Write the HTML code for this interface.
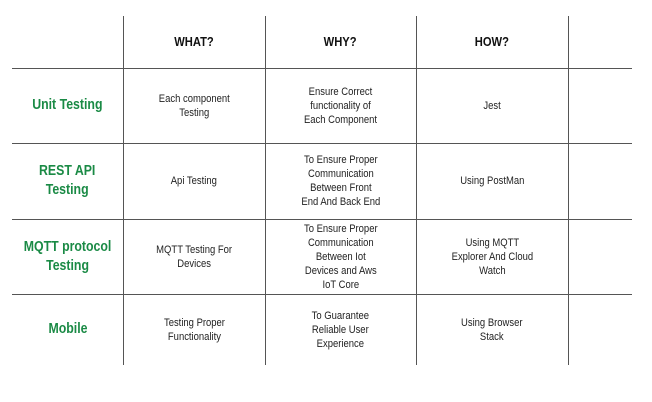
<!DOCTYPE html>
<html><head><meta charset="utf-8"><style>
html,body{margin:0;padding:0;background:#fff;width:652px;height:402px;overflow:hidden;position:relative}
.v{position:absolute;top:16px;height:349px;width:1px;background:#555}
.h{position:absolute;left:12px;width:620px;height:1px;background:#555}
.c{position:absolute;display:flex;align-items:center;justify-content:center;text-align:center;font-family:"Liberation Sans",sans-serif;color:#222;font-size:11px;line-height:14px}
.c span{display:inline-block;transform:scaleX(.86);white-space:nowrap}
.hd{font-size:13px;font-weight:bold;color:#111}
.g{color:#1a8a45;font-size:14.5px;font-weight:bold;line-height:19px}
.g span{transform:scaleX(.85)}
</style></head><body>
<div class="v" style="left:123px"></div>
<div class="v" style="left:265px"></div>
<div class="v" style="left:416px"></div>
<div class="v" style="left:568px"></div>
<div class="h" style="top:68px"></div>
<div class="h" style="top:143px"></div>
<div class="h" style="top:219px"></div>
<div class="h" style="top:294px"></div>

<div class="c hd" style="left:123px;width:142px;top:16px;height:52px"><span>WHAT?</span></div>
<div class="c hd" style="left:265px;width:151px;top:16px;height:52px"><span>WHY?</span></div>
<div class="c hd" style="left:416px;width:152px;top:16px;height:52px"><span>HOW?</span></div>

<div class="c g" style="left:12px;width:111px;top:68px;height:75px"><span>Unit Testing</span></div>
<div class="c" style="left:123px;width:142px;top:68px;height:75px"><span>Each component<br>Testing</span></div>
<div class="c" style="left:265px;width:151px;top:68px;height:75px"><span>Ensure Correct<br>functionality of<br>Each Component</span></div>
<div class="c" style="left:416px;width:152px;top:68px;height:75px"><span>Jest</span></div>

<div class="c g" style="left:12px;width:111px;top:143px;height:76px"><span>REST API<br>Testing</span></div>
<div class="c" style="left:123px;width:142px;top:143px;height:76px"><span>Api Testing</span></div>
<div class="c" style="left:265px;width:151px;top:143px;height:76px"><span>To Ensure Proper<br>Communication<br>Between Front<br>End And Back End</span></div>
<div class="c" style="left:416px;width:152px;top:143px;height:76px"><span>Using PostMan</span></div>

<div class="c g" style="left:12px;width:111px;top:219px;height:75px"><span>MQTT protocol<br>Testing</span></div>
<div class="c" style="left:123px;width:142px;top:219px;height:75px"><span>MQTT Testing For<br>Devices</span></div>
<div class="c" style="left:265px;width:151px;top:219px;height:75px"><span>To Ensure Proper<br>Communication<br>Between Iot<br>Devices and Aws<br>IoT Core</span></div>
<div class="c" style="left:416px;width:152px;top:219px;height:75px"><span>Using MQTT<br>Explorer And Cloud<br>Watch</span></div>

<div class="c g" style="left:12px;width:111px;top:294px;height:71px"><span>Mobile</span></div>
<div class="c" style="left:123px;width:142px;top:294px;height:71px"><span>Testing Proper<br>Functionality</span></div>
<div class="c" style="left:265px;width:151px;top:294px;height:71px"><span>To Guarantee<br>Reliable User<br>Experience</span></div>
<div class="c" style="left:416px;width:152px;top:294px;height:71px"><span>Using Browser<br>Stack</span></div>
</body></html>
